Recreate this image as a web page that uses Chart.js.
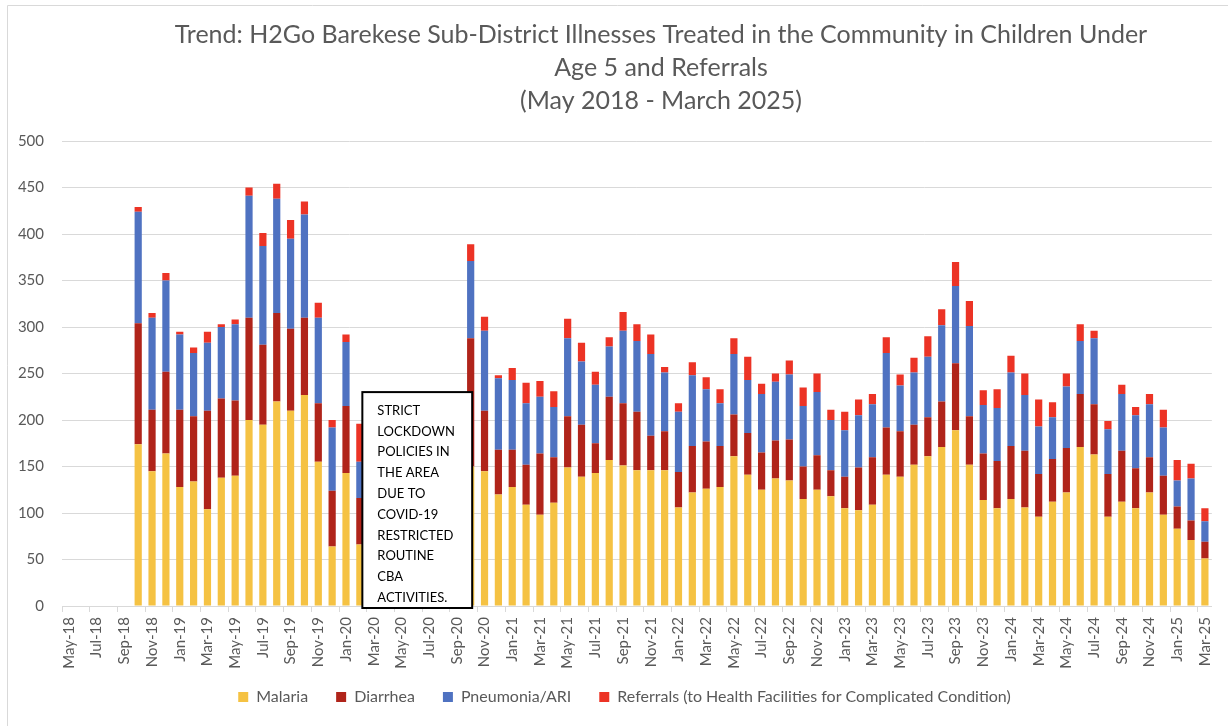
<!DOCTYPE html>
<html lang="en">
  <head>
    <meta charset="UTF-8" />
    <title>H2Go Barekese illnesses trend</title>
    <script src="https://cdn.jsdelivr.net/npm/chart.js@4.4.1/dist/chart.umd.min.js"></script>
    <style>
      body { margin: 0; background: #fff; }
    </style>
  </head>
  <body>
    <canvas id="myChart" width="1228" height="726"></canvas>

    <script>
      const months = [
        'May-18', 'Jun-18', 'Jul-18', 'Aug-18', 'Sep-18', 'Oct-18', 'Nov-18', 'Dec-18',
        'Jan-19', 'Feb-19', 'Mar-19', 'Apr-19', 'May-19', 'Jun-19', 'Jul-19', 'Aug-19', 'Sep-19', 'Oct-19', 'Nov-19', 'Dec-19',
        'Jan-20', 'Feb-20', 'Mar-20', 'Apr-20', 'May-20', 'Jun-20', 'Jul-20', 'Aug-20', 'Sep-20', 'Oct-20', 'Nov-20', 'Dec-20',
        'Jan-21', 'Feb-21', 'Mar-21', 'Apr-21', 'May-21', 'Jun-21', 'Jul-21', 'Aug-21', 'Sep-21', 'Oct-21', 'Nov-21', 'Dec-21',
        'Jan-22', 'Feb-22', 'Mar-22', 'Apr-22', 'May-22', 'Jun-22', 'Jul-22', 'Aug-22', 'Sep-22', 'Oct-22', 'Nov-22', 'Dec-22',
        'Jan-23', 'Feb-23', 'Mar-23', 'Apr-23', 'May-23', 'Jun-23', 'Jul-23', 'Aug-23', 'Sep-23', 'Oct-23', 'Nov-23', 'Dec-23',
        'Jan-24', 'Feb-24', 'Mar-24', 'Apr-24', 'May-24', 'Jun-24', 'Jul-24', 'Aug-24', 'Sep-24', 'Oct-24', 'Nov-24', 'Dec-24',
        'Jan-25', 'Feb-25', 'Mar-25'
      ];

      // May-18 .. Sep-18 no data, Mar-20 .. Sep-20 lockdown gap
      const malaria = [
        null, null, null, null, null,
        174, 145, 164, 128, 134, 104, 138, 140, 200, 195, 220, 210, 227, 155, 64, 143, 66,
        null, null, null, null, null, null, null,
        150, 145, 120,
        128, 109, 98, 111, 149, 139, 143, 157, 151, 146, 146, 146,
        106, 122, 126, 128, 161, 141, 125, 137, 135, 115, 125, 118,
        105, 103, 109, 141, 139, 152, 161, 171, 189, 152, 114, 105,
        115, 106, 96, 112, 122, 171, 163, 96, 112, 105, 122, 98,
        83, 71, 51
      ];
      const diarrhea = [
        null, null, null, null, null,
        130, 66, 88, 83, 70, 106, 85, 81, 110, 86, 95, 88, 83, 63, 60, 72, 50,
        null, null, null, null, null, null, null,
        138, 65, 48,
        40, 43, 66, 49, 55, 56, 32, 68, 67, 63, 37, 42,
        38, 50, 51, 44, 45, 45, 40, 41, 44, 35, 37, 28,
        34, 46, 51, 51, 49, 43, 42, 49, 72, 52, 50, 51,
        57, 61, 46, 46, 48, 57, 54, 46, 55, 43, 38, 42,
        24, 21, 18
      ];
      const pneumonia = [
        null, null, null, null, null,
        120, 99, 98, 81, 68, 73, 77, 82, 131, 106, 123, 97, 111, 92, 68, 69, 39,
        null, null, null, null, null, null, null,
        83, 86, 77,
        75, 66, 61, 54, 84, 68, 63, 54, 78, 76, 88, 63,
        65, 76, 56, 46, 65, 57, 63, 63, 70, 65, 68, 54,
        50, 56, 57, 80, 49, 56, 65, 82, 83, 97, 52, 57,
        79, 60, 51, 45, 66, 57, 71, 48, 61, 57, 57, 52,
        28, 45, 22
      ];
      const referrals = [
        null, null, null, null, null,
        5, 5, 8, 3, 6, 12, 3, 5, 9, 14, 16, 20, 14, 16, 8, 8, 41,
        null, null, null, null, null, null, null,
        18, 15, 3,
        13, 22, 17, 17, 21, 20, 14, 10, 20, 18, 21, 6,
        9, 14, 13, 15, 17, 25, 11, 9, 15, 20, 20, 11,
        20, 17, 11, 17, 12, 16, 22, 17, 26, 27, 16, 20,
        18, 23, 29, 16, 14, 18, 8, 9, 10, 9, 11, 19,
        22, 16, 14
      ];

      const titleLines = [
        'Trend: H2Go Barekese Sub-District Illnesses Treated in the Community in Children Under',
        'Age 5 and Referrals',
        '(May 2018 - March 2025)'
      ];
      const noteLines = [
        'STRICT', 'LOCKDOWN', 'POLICIES IN', 'THE AREA', 'DUE TO',
        'COVID-19', 'RESTRICTED', 'ROUTINE', 'CBA', 'ACTIVITIES.'
      ];

      const grey = '#595959';
      const gridGrey = '#D9D9D9';
      const font = 'Lato, "Open Sans", sans-serif';

      // light frame of the original chart object
      const framePlugin = {
        id: 'frame',
        beforeDraw(chart) {
          const c = chart.ctx;
          c.save();
          c.strokeStyle = gridGrey;
          c.lineWidth = 1;
          c.beginPath();
          c.moveTo(7.5, chart.height);
          c.lineTo(7.5, 5.5);
          c.lineTo(chart.width, 5.5);
          c.stroke();
          c.restore();
        }
      };

      // nudge the legend: sits a bit right of the canvas centre and higher up
      const legendShift = {
        id: 'legendShift',
        afterLayout(chart) {
          chart.legend.left += 36;
          chart.legend.top -= 11;
        }
      };

      // the lockdown note box, anchored on the gap in the x axis
      const notePlugin = {
        id: 'note',
        afterDatasetsDraw(chart) {
          const x = chart.scales.x, y = chart.scales.y;
          const left = x.getPixelForValue(21) + 2.5;
          const right = x.getPixelForValue(29) + 1.5;
          const top = y.getPixelForValue(230);
          const bottom = y.getPixelForValue(0) + 2;
          const c = chart.ctx;
          c.save();
          c.fillStyle = '#fff';
          c.fillRect(left, top, right - left, bottom - top);
          c.strokeStyle = '#000';
          c.lineWidth = 2;
          c.strokeRect(left, top, right - left, bottom - top);
          c.fillStyle = '#000';
          c.font = '13px ' + font;
          c.textBaseline = 'middle';
          c.textAlign = 'left';
          noteLines.forEach((t, i) => c.fillText(t, left + 15, top + 18.5 + i * 20.8));
          c.restore();
        }
      };

      const titlePlugin = {
        id: 'bigTitle',
        afterDraw(chart) {
          const c = chart.ctx;
          c.save();
          c.fillStyle = grey;
          c.font = '25px ' + font;
          c.textAlign = 'center';
          c.textBaseline = 'middle';
          titleLines.forEach((t, i) => c.fillText(t, 661, 35 + i * 33));
          c.restore();
        }
      };

      function makeSet(label, data, color) {
        return {
          label: label,
          data: data,
          backgroundColor: color,
          borderWidth: 0,
          categoryPercentage: 1,
          barPercentage: 0.52
        };
      }

      window.addEventListener('load', setup);

      function setup() {
        const ctx = document.getElementById('myChart').getContext('2d');
        new Chart(ctx, {
          type: 'bar',
          data: {
            labels: months,
            datasets: [
              makeSet('Malaria', malaria, '#F5C243'),
              makeSet('Diarrhea', diarrhea, '#B0241A'),
              makeSet('Pneumonia/ARI', pneumonia, '#4F72C1'),
              makeSet('Referrals (to Health Facilities for Complicated Condition)', referrals, '#EC3325')
            ]
          },
          options: {
            responsive: false,
            animation: false,
            layout: { padding: { left: 0, right: 15, top: 141, bottom: 0 } },
            plugins: {
              title: { display: false },
              tooltip: { enabled: false },
              legend: {
                position: 'bottom',
                labels: {
                  boxWidth: 10,
                  boxHeight: 10,
                  padding: 28,
                  color: grey,
                  font: { family: font, size: 16 }
                }
              }
            },
            scales: {
              x: {
                stacked: true,
                offset: true,
                afterFit: s => { s.height = 66; },
                border: { color: gridGrey },
                grid: {
                  offset: true,
                  drawOnChartArea: false,
                  drawTicks: true,
                  tickLength: 6,
                  color: c => (c.index % 2 === 0 ? gridGrey : 'rgba(0,0,0,0)')
                },
                ticks: {
                  autoSkip: false,
                  minRotation: 90,
                  maxRotation: 90,
                  padding: 5,
                  color: grey,
                  font: { family: font, size: 15 },
                  callback: function (v, i) { return i % 2 === 0 ? months[i] : ''; }
                }
              },
              y: {
                stacked: true,
                min: 0,
                max: 500,
                afterFit: s => { s.width = 62; },
                border: { display: false },
                grid: { color: gridGrey, drawTicks: false },
                ticks: {
                  stepSize: 50,
                  padding: 18,
                  color: grey,
                  font: { family: font, size: 15 }
                }
              }
            }
          },
          plugins: [framePlugin, legendShift, notePlugin, titlePlugin]
        });
      }
    </script>
  </body>
</html>
